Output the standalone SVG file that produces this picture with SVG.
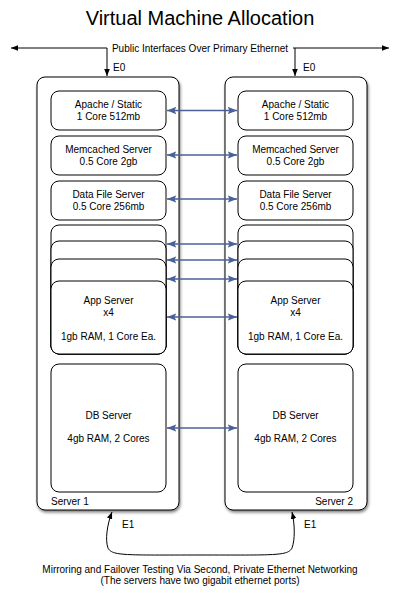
<svg xmlns="http://www.w3.org/2000/svg" width="400" height="593" viewBox="0 0 400 593">
<style>
text{font-family:"Liberation Sans",Arial,sans-serif;fill:#000}
.t{font-size:10px;text-anchor:middle}
.srv{fill:#fff;stroke:#000;stroke-width:1}
.box{fill:#fff;stroke:#000;stroke-width:1}
.link{stroke:#4a6098;stroke-width:1.5;fill:none;marker-start:url(#bh);marker-end:url(#bh)}
.blk{stroke:#000;stroke-width:1;fill:none}
</style>
<defs>
<marker id="bh" viewBox="0 0 10 8" refX="10" refY="4" markerWidth="9.5" markerHeight="7.5" markerUnits="userSpaceOnUse" orient="auto-start-reverse"><path d="M0,0L10,4L0,8L2,4z" fill="#4a6098"/></marker>
<marker id="kh" viewBox="0 0 10 8" refX="10" refY="4" markerWidth="7" markerHeight="6" markerUnits="userSpaceOnUse" orient="auto-start-reverse"><path d="M0,0L10,4L0,8z" fill="#000"/></marker>
<filter id="sh" x="-10%" y="-10%" width="130%" height="130%"><feGaussianBlur in="SourceAlpha" stdDeviation="1.5"/><feOffset dx="1" dy="2"/><feComponentTransfer><feFuncA type="linear" slope="0.5"/></feComponentTransfer><feMerge><feMergeNode/><feMergeNode in="SourceGraphic"/></feMerge></filter>
</defs>
<text x="200" y="25" style="font-size:20px;text-anchor:middle">Virtual Machine Allocation</text>

<g id="server1">
<rect class="srv" x="37" y="77" width="142" height="433" rx="8" filter="url(#sh)"/>
<text x="51" y="505" style="font-size:10px">Server 1</text>
</g>
<g id="server2">
<rect class="srv" x="225" y="77" width="142" height="433" rx="8" filter="url(#sh)"/>
<text x="353" y="505" style="font-size:10px;text-anchor:end">Server 2</text>
</g>

<g id="apache1"><rect class="box" x="51" y="91" width="115" height="39" rx="8"/><text class="t" x="108.5" y="108">Apache / Static</text><text class="t" x="108.5" y="120">1 Core 512mb</text></g>
<g id="memcached1"><rect class="box" x="51" y="136" width="115" height="39" rx="8"/><text class="t" x="108.5" y="153">Memcached Server</text><text class="t" x="108.5" y="165">0.5 Core 2gb</text></g>
<g id="datafile1"><rect class="box" x="51" y="181" width="115" height="39" rx="8"/><text class="t" x="108.5" y="198">Data File Server</text><text class="t" x="108.5" y="210">0.5 Core 256mb</text></g>
<g id="app1">
<rect class="box" x="51" y="225" width="115" height="129" rx="8"/>
<rect class="box" x="51" y="241" width="115" height="113" rx="8"/>
<rect class="box" x="51" y="259" width="115" height="95" rx="8"/>
<rect class="box" x="51" y="281" width="115" height="73" rx="8"/>
<text class="t" x="108.5" y="304">App Server</text><text class="t" x="108.5" y="316">x4</text><text class="t" x="108.5" y="340">1gb RAM, 1 Core Ea.</text>
</g>
<g id="db1"><rect class="box" x="51" y="364" width="115" height="128" rx="8"/><text class="t" x="108.5" y="419">DB Server</text><text class="t" x="108.5" y="442">4gb RAM, 2 Cores</text></g>

<g id="apache2"><rect class="box" x="238" y="91" width="115" height="39" rx="8"/><text class="t" x="295.5" y="108">Apache / Static</text><text class="t" x="295.5" y="120">1 Core 512mb</text></g>
<g id="memcached2"><rect class="box" x="238" y="136" width="115" height="39" rx="8"/><text class="t" x="295.5" y="153">Memcached Server</text><text class="t" x="295.5" y="165">0.5 Core 2gb</text></g>
<g id="datafile2"><rect class="box" x="238" y="181" width="115" height="39" rx="8"/><text class="t" x="295.5" y="198">Data File Server</text><text class="t" x="295.5" y="210">0.5 Core 256mb</text></g>
<g id="app2">
<rect class="box" x="238" y="225" width="115" height="129" rx="8"/>
<rect class="box" x="238" y="241" width="115" height="113" rx="8"/>
<rect class="box" x="238" y="259" width="115" height="95" rx="8"/>
<rect class="box" x="238" y="281" width="115" height="73" rx="8"/>
<text class="t" x="295.5" y="304">App Server</text><text class="t" x="295.5" y="316">x4</text><text class="t" x="295.5" y="340">1gb RAM, 1 Core Ea.</text>
</g>
<g id="db2"><rect class="box" x="238" y="364" width="115" height="128" rx="8"/><text class="t" x="295.5" y="419">DB Server</text><text class="t" x="295.5" y="442">4gb RAM, 2 Cores</text></g>

<g id="connectors">
<line class="link" x1="167" y1="110.5" x2="237" y2="110.5"/>
<line class="link" x1="167" y1="155" x2="237" y2="155"/>
<line class="link" x1="167" y1="199" x2="237" y2="199"/>
<line class="link" x1="167" y1="244" x2="237" y2="244"/>
<line class="link" x1="167" y1="260" x2="237" y2="260"/>
<line class="link" x1="167" y1="279" x2="237" y2="279"/>
<line class="link" x1="167" y1="317" x2="237" y2="317"/>
<line class="link" x1="167" y1="428" x2="237" y2="428"/>
<path class="blk" d="M107,48H11" marker-end="url(#kh)"/>
<path class="blk" d="M107,48V76" marker-end="url(#kh)"/>
<path class="blk" d="M293,48H389" marker-end="url(#kh)"/>
<path class="blk" d="M295,48V76" marker-end="url(#kh)"/>
<path class="blk" d="M112,512C107,525 105,540 108,548C112,556 125,555 200,555C275,555 288,556 292,548C295,540 295,525 292,512" marker-start="url(#kh)" marker-end="url(#kh)"/>
</g>
<text x="200" y="52" style="font-size:10px;text-anchor:middle">Public Interfaces Over Primary Ethernet</text>
<text x="113" y="71" style="font-size:10px">E0</text>
<text x="303" y="71" style="font-size:10px">E0</text>
<text x="122" y="528" style="font-size:10px">E1</text>
<text x="304" y="528" style="font-size:10px">E1</text>
<text class="t" x="200" y="573">Mirroring and Failover Testing Via Second, Private Ethernet Networking</text>
<text class="t" x="200" y="584">(The servers have two gigabit ethernet ports)</text>
</svg>
